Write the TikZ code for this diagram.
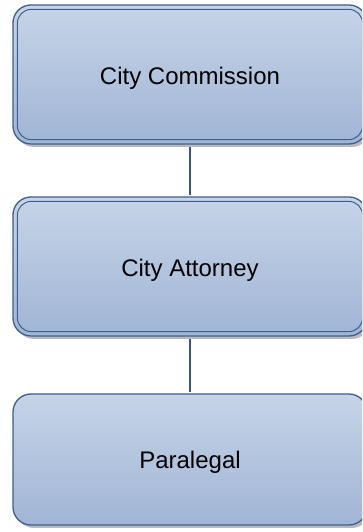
\documentclass[tikz,border=0pt]{standalone}
\usepackage{fontspec}
\setmainfont{Liberation Sans}
\usetikzlibrary{shadows}
\definecolor{boxline}{HTML}{3D5F8D}
\definecolor{boxtop}{HTML}{C6D4E7}
\definecolor{boxbottom}{HTML}{A0B5D5}
\definecolor{linkline}{HTML}{2E5686}
\tikzset{
  orgbox/.style={draw=boxline, line width=1.3pt, rounded corners=18pt,
    top color=boxtop, bottom color=boxbottom,
    minimum width=354pt, inner sep=0pt,
    drop shadow={shadow xshift=3pt, shadow yshift=-3pt, opacity=0.45, fill=black!60}},
  innerframe/.style={draw=boxline, line width=1pt, rounded corners=14pt},
  boxtext/.style={font=\fontsize{24}{28}\selectfont, text height=17pt, text depth=5pt, inner sep=0pt},
  link/.style={draw=linkline, line width=2pt}
}
\begin{document}
\begin{tikzpicture}[x=1pt,y=1pt]
\useasboundingbox (0,0) rectangle (362,532);
\clip (0,0) rectangle (362,532);
% boxes
\node[orgbox, minimum height=139pt] (commission) at (190,457.5) {};
\node[orgbox, minimum height=139pt] (attorney) at (190,265.5) {};
\node[orgbox, minimum height=131pt] (paralegal) at (190,72.5) {};
% inner frames of the double-bordered boxes
\draw[innerframe] ([shift={(5,-5)}]commission.north west) rectangle ([shift={(-5,5)}]commission.south east);
\draw[innerframe] ([shift={(5,-5)}]attorney.north west) rectangle ([shift={(-5,5)}]attorney.south east);
% labels
\node[boxtext] (commissiontext) at ([yshift=-4pt]commission.center) {City Commission};
\node[boxtext] (attorneytext) at ([yshift=-4pt]attorney.center) {City Attorney};
\node[boxtext] (paralegaltext) at ([yshift=-3pt]paralegal.center) {Paralegal};
% connectors
\draw[link] ([yshift=-2pt]commission.south) -- ([yshift=1pt]attorney.north);
\draw[link] ([yshift=-2pt]attorney.south) -- ([yshift=1pt]paralegal.north);
\end{tikzpicture}
\end{document}
